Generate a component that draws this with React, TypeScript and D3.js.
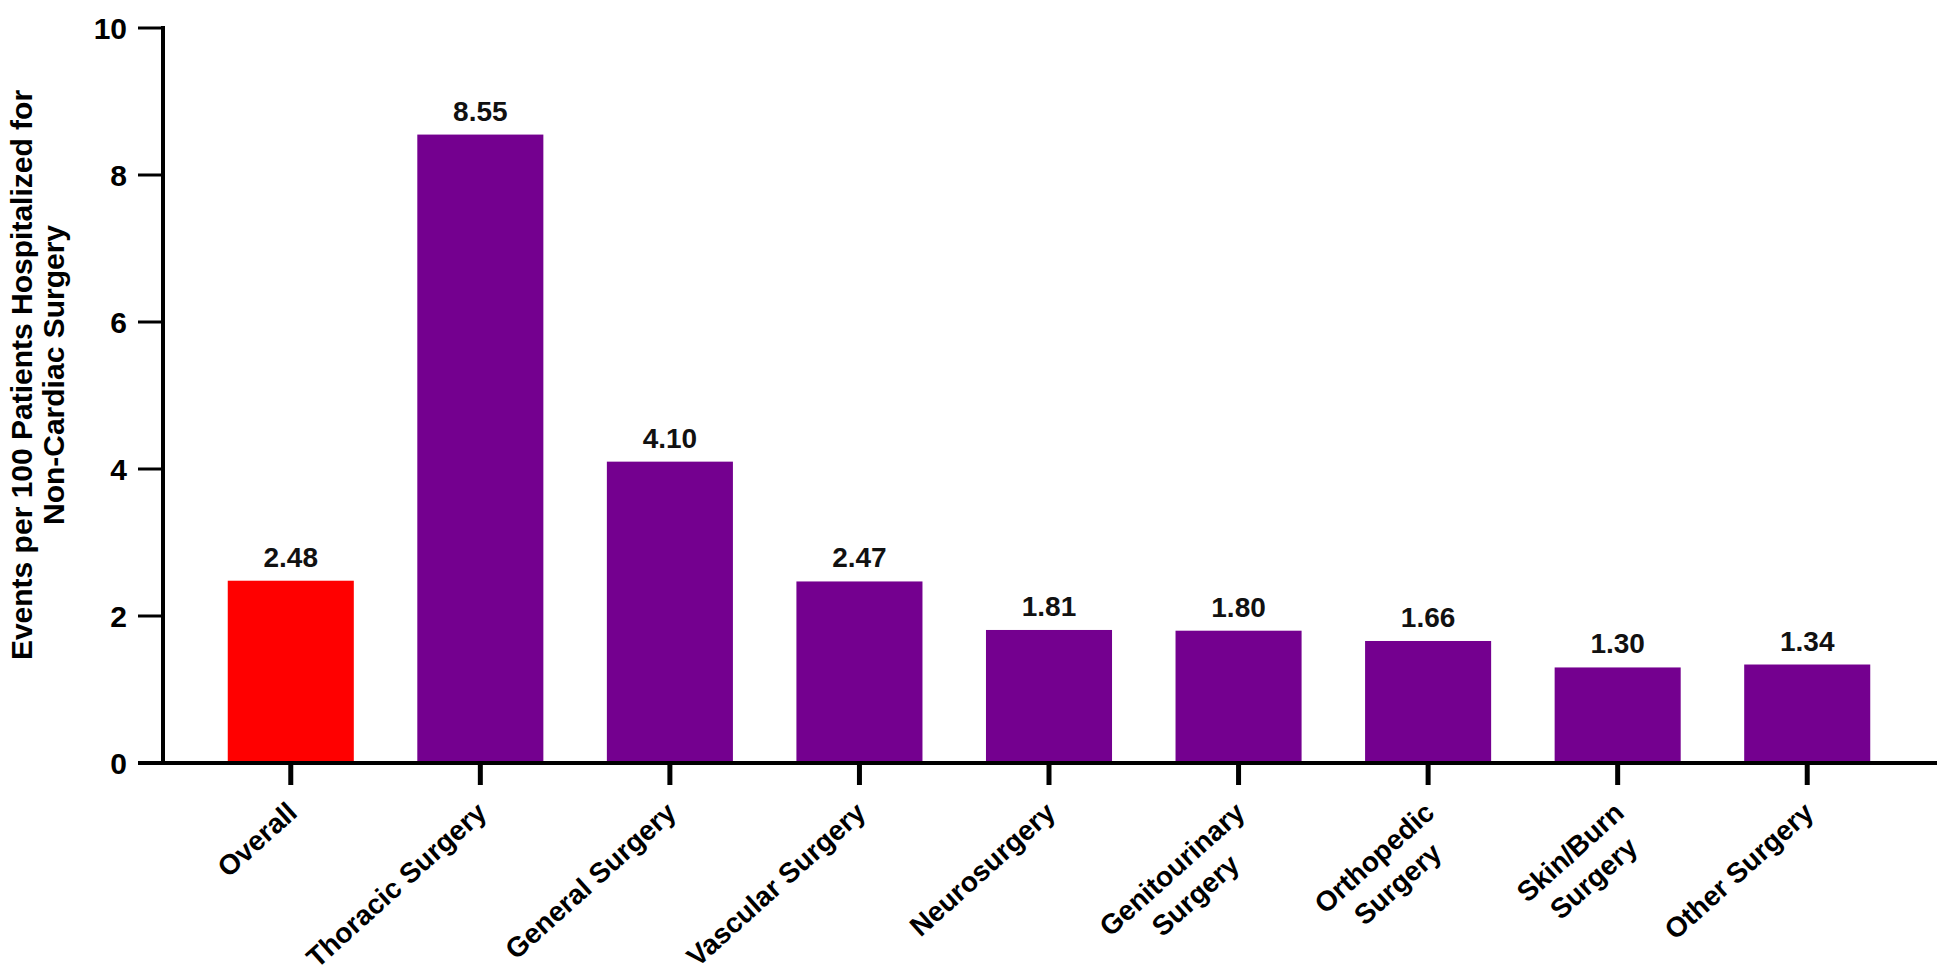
import React from "react";
import * as d3 from "d3";

const categories: string[][] = [
  ["Overall"],
  ["Thoracic Surgery"],
  ["General Surgery"],
  ["Vascular Surgery"],
  ["Neurosurgery"],
  ["Genitourinary", "Surgery"],
  ["Orthopedic", "Surgery"],
  ["Skin/Burn", "Surgery"],
  ["Other Surgery"],
];
const values: number[] = [2.48, 8.55, 4.1, 2.47, 1.81, 1.8, 1.66, 1.3, 1.34];
const valueLabels: string[] = ["2.48", "8.55", "4.10", "2.47", "1.81", "1.80", "1.66", "1.30", "1.34"];
const yTicks: number[] = [0, 2, 4, 6, 8, 10];
const yTitle: string[] = ["Events per 100 Patients Hospitalized for", "Non-Cardiac Surgery"];

const W = 1950;
const H = 980;
const FONT = "'Liberation Sans', Arial, Helvetica, sans-serif";
const RED = "#ff0000";
const PURPLE = "#74008f";

let ctx: CanvasRenderingContext2D | null = null;
function textWidth(s: string, size: number): number {
  if (!ctx) {
    const c = document.createElement("canvas");
    ctx = c.getContext("2d");
  }
  if (!ctx) return s.length * size * 0.55;
  ctx.font = `bold ${size}px ${FONT}`;
  return ctx.measureText(s).width;
}

export default function App() {
  const y = d3.scaleLinear().domain([0, 10]).range([763, 28]);
  const x = d3
    .scaleBand<number>()
    .domain(d3.range(categories.length))
    .range([196, 1902])
    .paddingInner(0.335)
    .paddingOuter(0.1675);
  const axisX = 163;
  const y0 = y(0);
  const catSize = 28;
  const lineGap = 35;
  const angle = -42;

  return (
    <svg width={W} height={H} style={{ position: "absolute", left: 0, top: 0, background: "#fff" }} fontFamily={FONT}>
      <rect x={0} y={0} width={W} height={H} fill="#fff" />
      {values.map((v, i) => (
        <rect
          key={"b" + i}
          x={x(i)}
          y={y(v)}
          width={x.bandwidth()}
          height={y0 - y(v)}
          fill={i === 0 ? RED : PURPLE}
        />
      ))}
      {values.map((v, i) => (
        <text
          key={"v" + i}
          x={(x(i) as number) + x.bandwidth() / 2}
          y={y(v) - 14}
          textAnchor="middle"
          fontSize={28}
          fontWeight="bold"
          fill="#111"
        >
          {valueLabels[i]}
        </text>
      ))}
      <line x1={axisX} x2={axisX} y1={y(10) - 2} y2={y0 + 2} stroke="#000" strokeWidth={4} />
      {yTicks.map((t) => (
        <g key={"t" + t}>
          <line x1={138} x2={axisX} y1={y(t)} y2={y(t)} stroke="#000" strokeWidth={3} />
          <text
            x={127}
            y={y(t)}
            dy="0.36em"
            textAnchor="end"
            fontSize={30}
            fontWeight="bold"
            fill="#000"
          >
            {t}
          </text>
        </g>
      ))}
      <line x1={138} x2={1937} y1={y0} y2={y0} stroke="#000" strokeWidth={4} />
      {categories.map((c, i) => {
        const cx = (x(i) as number) + x.bandwidth() / 2;
        const maxW = Math.max(...c.map((s) => textWidth(s, catSize)));
        return (
          <g key={"c" + i}>
            <line x1={cx} x2={cx} y1={y0} y2={y0 + 22} stroke="#000" strokeWidth={5} />
            <g transform={`translate(${cx + 8},${815}) rotate(${angle})`}>
              {c.map((s, j) => (
                <text
                  key={j}
                  x={c.length > 1 ? -maxW / 2 : 0}
                  y={j * lineGap}
                  textAnchor={c.length > 1 ? "middle" : "end"}
                  fontSize={catSize}
                  fontWeight="bold"
                  fill="#000"
                >
                  {s}
                </text>
              ))}
            </g>
          </g>
        );
      })}
      <g transform={`translate(0,${375}) rotate(-90)`}>
        {yTitle.map((s, j) => (
          <text key={j} x={0} y={32 + j * 32} textAnchor="middle" fontSize={30} fontWeight="bold" fill="#000">
            {s}
          </text>
        ))}
      </g>
    </svg>
  );
}
